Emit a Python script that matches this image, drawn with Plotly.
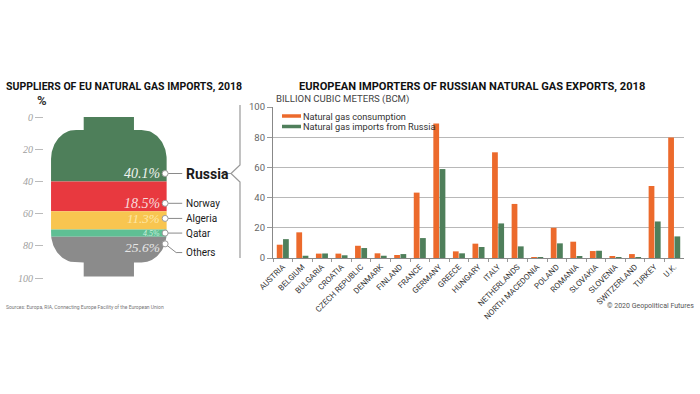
import numpy as np
import plotly.graph_objects as go

# ---------------- data ----------------
suppliers = ["Russia", "Norway", "Algeria", "Qatar", "Others"]
supplier_share = [40.1, 18.5, 11.3, 4.5, 25.6]

countries = ["AUSTRIA", "BELGIUM", "BULGARIA", "CROATIA", "CZECH REPUBLIC", "DENMARK",
             "FINLAND", "FRANCE", "GERMANY", "GREECE", "HUNGARY", "ITALY", "NETHERLANDS",
             "NORTH MACEDONIA", "POLAND", "ROMANIA", "SLOVAKIA", "SLOVENIA", "SWITZERLAND",
             "TURKEY", "U.K."]
consumption = [8.8, 17.0, 2.9, 2.9, 8.1, 3.1, 2.0, 43.3, 89.0, 4.4, 9.5, 70.0, 35.8,
               0.3, 20.0, 10.8, 4.6, 0.7, 2.6, 47.7, 79.8]
imports_russia = [12.5, 1.5, 3.0, 1.8, 6.6, 1.5, 2.6, 13.2, 58.9, 3.1, 7.3, 22.9, 7.7,
                  0.3, 9.7, 1.1, 4.8, 0.5, 0.2, 24.2, 14.3]
pct_ticks = [0, 20, 40, 60, 80, 100]
bcm_ticks = [0, 20, 40, 60, 80, 100]

series_names = ["Natural gas consumption", "Natural gas imports from Russia"]

# ---------------- style ----------------
W_, H_ = 700, 394
def fx(px): return px / W_
def fy(py): return 1 - py / H_

COND = "Roboto, Lato, sans-serif"
SERIF = "Liberation Serif, DejaVu Serif, serif"
ORANGE = "#ec6a2c"
GREEN = "#4f7f5b"
seg_colors = ["#4e7f5a", "#e8393f", "#f8c550", "#5fbf94", "#8b8b8b"]
pct_text_colors = ["#eef3ee", "#f8dcdc", "#fde7a6", "#c9efdd", "#e6e6e6"]
pct_sizes = [14, 14, 13, 8, 13.5]
name_sizes = [14, 10, 10, 10, 10]
# label anchoring: (reference edge of segment, offset in %)
label_anchor = [("end", -5.0), ("end", -5.0), ("end", -6.9), ("end", -2.3), ("start", 4.4)]
pct_shift = [0, 0, 0, 0, 2.0]
name_extra = [0, 0, 0, 0, 5.4]

# tank outline geometry (left panel units: x in px from centre, y in %)
TOP, SH, BOT_BODY, BOT = 0.0, 8.0, 90.3, 99.0
WB, NECK, RX, RY = 57.5, 25.0, 25.0, 18.0

def half_width(y):
    if y < TOP or y > BOT:
        return 0.0
    if y < SH:
        return NECK
    if y < SH + RY:
        t = (SH + RY - y) / RY
        return WB - RX + RX * np.sqrt(max(0.0, 1 - t * t))
    if y <= BOT_BODY - RY:
        return WB
    if y <= BOT_BODY:
        t = (y - (BOT_BODY - RY)) / RY
        return WB - RX + RX * np.sqrt(max(0.0, 1 - t * t))
    return NECK

outline = [(NECK, TOP), (NECK, SH)]
outline += [(half_width(y), y) for y in np.linspace(SH, SH + RY, 40)]
outline += [(WB, BOT_BODY - RY)]
outline += [(half_width(y), y) for y in np.linspace(BOT_BODY - RY, BOT_BODY - 1e-6, 40)]
outline += [(NECK, BOT_BODY), (NECK, BOT)]

fig = go.Figure()

cum_end = np.cumsum(supplier_share)
cum_start = cum_end - np.array(supplier_share)

for i, name in enumerate(suppliers):
    a = max(TOP, float(cum_start[i]))
    b = min(BOT, float(cum_end[i]))
    right = [(half_width(a), a)] + [p for p in outline if a < p[1] < b] + [(half_width(b), b)]
    xs = [p[0] for p in right] + [-p[0] for p in reversed(right)] + [right[0][0]]
    ys = [p[1] for p in right] + [p[1] for p in reversed(right)] + [right[0][1]]
    fig.add_trace(go.Scatter(x=xs, y=ys, fill="toself", fillcolor=seg_colors[i],
                             mode="lines", line=dict(width=0), hoverinfo="skip",
                             showlegend=False, xaxis="x", yaxis="y"))

DOT_X, LINE_END, NAME_X, PCT_X = 56, 73, 75.5, 51.5
for i, name in enumerate(suppliers):
    edge, off = label_anchor[i]
    ly = (cum_end[i] if edge == "end" else cum_start[i]) + off
    ny = ly + name_extra[i]
    if name_extra[i]:
        lx, lyy = [DOT_X, 67, LINE_END], [ly, ny, ny]
    else:
        lx, lyy = [DOT_X, LINE_END], [ly, ly]
    fig.add_trace(go.Scatter(x=lx, y=lyy, mode="lines", line=dict(color="#8a8a8a", width=1),
                             hoverinfo="skip", showlegend=False, xaxis="x", yaxis="y"))
    fig.add_trace(go.Scatter(x=[DOT_X], y=[ly], mode="markers",
                             marker=dict(size=6, color="white", line=dict(color="#9a9a9a", width=1)),
                             hoverinfo="skip", showlegend=False, xaxis="x", yaxis="y"))
    fig.add_annotation(x=PCT_X, y=ly + pct_shift[i], xref="x", yref="y", xanchor="right",
                       yanchor="middle", text=f"{supplier_share[i]}%", showarrow=False, borderpad=0,
                       font=dict(family=SERIF, size=pct_sizes[i], color=pct_text_colors[i], style="italic"))
    fig.add_annotation(x=NAME_X, y=ny, xref="x", yref="y", xanchor="left", yanchor="middle",
                       text=(f"<b>{name}</b>" if i == 0 else name), showarrow=False, borderpad=0,
                       font=dict(family=COND, size=name_sizes[i], color="#1a1a1a"))

# ---------------- bars ----------------
fig.add_trace(go.Bar(x=countries, y=consumption, name=series_names[0], marker_color=ORANGE,
                     marker_line_width=0, xaxis="x2", yaxis="y2", showlegend=False))
fig.add_trace(go.Bar(x=countries, y=imports_russia, name=series_names[1], marker_color=GREEN,
                     marker_line_width=0, xaxis="x2", yaxis="y2", showlegend=False))

# manual legend
for k, (col, nm) in enumerate(zip([ORANGE, GREEN], series_names)):
    yy = 116 + 10.5 * k
    fig.add_shape(type="line", xref="paper", yref="paper", x0=fx(282), x1=fx(301),
                  y0=fy(yy), y1=fy(yy), line=dict(color=col, width=3.5))
    fig.add_annotation(x=fx(302), y=fy(yy), xref="paper", yref="paper", xanchor="left",
                       yanchor="middle", text=nm, showarrow=False, borderpad=0,
                       font=dict(family=COND, size=9.2, color="#333"))

# bracket
fig.add_shape(type="path", xref="paper", yref="paper",
              path=(f"M {fx(240)},{fy(105)} L {fx(240)},{fy(165)} L {fx(231)},{fy(173.5)} "
                    f"L {fx(240)},{fy(182)} L {fx(240)},{fy(258)} "
                    f"M {fx(221)},{fy(173.5)} L {fx(231)},{fy(173.5)}"),
              line=dict(color="#999", width=1.2))

# texts
fig.add_annotation(x=fx(4), y=fy(87), xref="paper", yref="paper", xanchor="left", yanchor="middle",
                   text="<b>SUPPLIERS OF EU NATURAL GAS IMPORTS, 2018</b>", showarrow=False,
                   font=dict(family=COND, size=10.5, color="#111"))
fig.add_annotation(x=fx(297), y=fy(86), xref="paper", yref="paper", xanchor="left", yanchor="middle",
                   text="<b>EUROPEAN IMPORTERS OF RUSSIAN NATURAL GAS EXPORTS, 2018</b>", showarrow=False,
                   font=dict(family=COND, size=11.1, color="#111"))
fig.add_annotation(x=fx(35), y=fy(101), xref="paper", yref="paper", xanchor="left", yanchor="middle",
                   text="<b>%</b>", showarrow=False, font=dict(family=COND, size=13, color="#333"))
fig.add_annotation(x=fx(275), y=fy(99), xref="paper", yref="paper", xanchor="left", yanchor="middle",
                   text="BILLION CUBIC METERS (BCM)", showarrow=False, borderpad=0,
                   font=dict(family=COND, size=9.6, color="#444"))
fig.add_annotation(x=fx(4), y=fy(307), xref="paper", yref="paper", xanchor="left", yanchor="middle",
                   text="Sources: Europa, RIA, Connecting Europe Facility of the European Union",
                   showarrow=False, font=dict(family=COND, size=5.0, color="#777"))
fig.add_annotation(x=fx(696), y=fy(306), xref="paper", yref="paper", xanchor="right", yanchor="middle",
                   text="© 2020 Geopolitical Futures", showarrow=False,
                   font=dict(family=COND, size=7, color="#555"))

fig.update_layout(
    width=W_, height=H_, margin=dict(l=0, r=0, t=0, b=0, pad=0, autoexpand=False),
    paper_bgcolor="white", plot_bgcolor="rgba(0,0,0,0)",
    barmode="group", bargap=0.36, bargroupgap=0.08,
    xaxis=dict(domain=[fx(44), fx(240)], range=[-64.5, 130.5], visible=False, fixedrange=True,
               automargin=False),
    yaxis=dict(domain=[fy(278), fy(117)], range=[100, 0], tickvals=pct_ticks, automargin=False,
               showgrid=False, zeroline=False, showline=False,
               ticks="outside", ticklen=8, tickcolor="#bbb", tickwidth=1,
               tickfont=dict(family=SERIF, size=10, color="#a0a0a0", style="italic")),
    xaxis2=dict(domain=[fx(273), fx(684)], anchor="y2", type="category", automargin=False,
                categoryorder="array", categoryarray=countries,
                tickangle=-45, tickson="boundaries", ticks="outside", ticklen=3,
                tickcolor="#999", showline=True, linecolor="#888", linewidth=1.2, showgrid=False,
                tickfont=dict(family=COND, size=8, color="#333")),
    yaxis2=dict(domain=[fy(258), fy(107)], anchor="x2", range=[0, 100], tickvals=bcm_ticks,
                automargin=False,
                showgrid=True, gridcolor="#b8b8b8", gridwidth=1.2, zeroline=False,
                showline=True, linecolor="#888", linewidth=1.2, ticks="outside", ticklen=5,
                tickcolor="#999",
                tickfont=dict(family=COND, size=9.5, color="#666")),
)

fig.write_html("out.html", config={"displayModeBar": False},
               post_script="document.body.style.margin='0';document.body.style.overflow='hidden';")
